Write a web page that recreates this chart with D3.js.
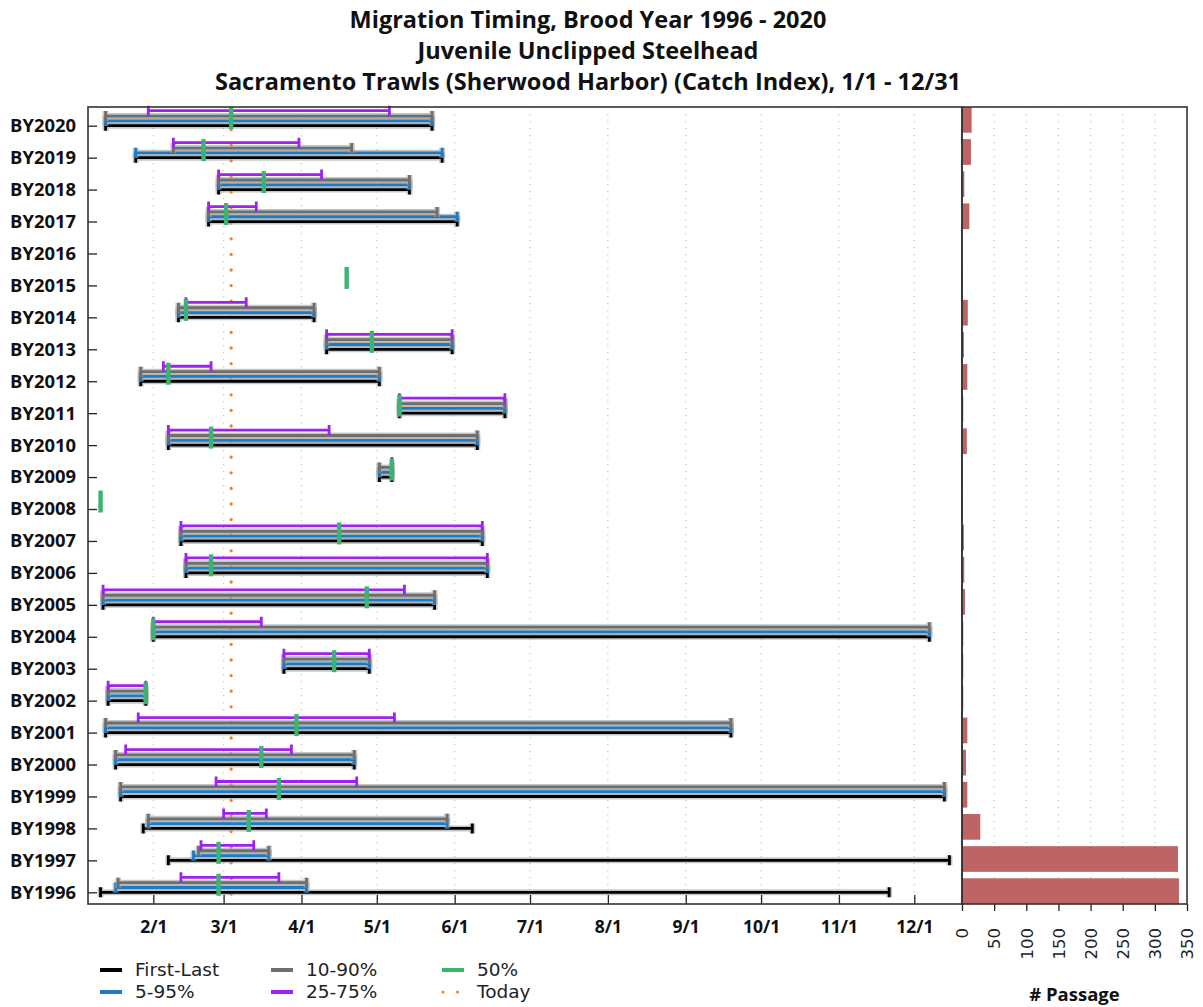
<!DOCTYPE html>
<html>
<head>
<meta charset="utf-8">
<script src="https://cdn.jsdelivr.net/npm/d3@7"></script>
<style>
  html, body { margin: 0; padding: 0; background: #fff; }
  svg { display: block; }
</style>
</head>
<body>
<script>
// Brood years, newest first (top row to bottom row)
const years = [2020, 2019, 2018, 2017, 2016, 2015, 2014, 2013, 2012, 2011, 2010, 2009, 2008,
               2007, 2006, 2005, 2004, 2003, 2002, 2001, 2000, 1999, 1998, 1997, 1996];

// Migration timing dates (M/D) per brood year; null = no record
const firstDate = ["1/13","1/25","2/27","2/23",null,null,"2/11","4/11","1/27","5/10","2/7","5/2",null,
                   "2/12","2/14","1/12","2/1","3/25","1/14","1/13","1/17","1/19","1/28","2/7","1/11"];
const p5Date    = ["1/13","1/25","2/27","2/23",null,null,"2/11","4/11","1/27","5/10","2/7","5/2",null,
                   "2/12","2/14","1/12","2/1","3/25","1/14","1/13","1/17","1/19","1/30","2/17","1/17"];
const p10Date   = ["1/13","2/9","2/27","2/23",null,null,"2/11","4/11","1/27","5/10","2/7","5/2",null,
                   "2/12","2/14","1/12","2/1","3/25","1/14","1/13","1/17","1/19","1/30","2/19","1/18"];
const p25Date   = ["1/30","2/9","2/27","2/23",null,null,"2/14","4/11","2/5","5/10","2/7","5/7",null,
                   "2/12","2/14","1/12","2/1","3/25","1/14","1/26","1/21","2/26","3/1","2/20","2/12"];
const p50Date   = ["3/4","2/21","3/17","3/2",null,"4/19","2/14","4/29","2/7","5/10","2/24","5/7","1/11",
                   "4/16","2/24","4/27","2/1","4/14","1/29","3/30","3/16","3/23","3/11","2/27","2/27"];
const p75Date   = ["5/6","3/31","4/9","3/14",null,null,"3/10","5/31","2/24","6/21","4/12","5/7",null,
                   "6/12","6/14","5/12","3/16","4/28","1/29","5/8","3/28","4/23","3/18","3/13","3/23"];
const p90Date   = ["5/23","4/21","5/14","5/25",null,null,"4/6","5/31","5/2","6/21","6/10","5/7",null,
                   "6/12","6/14","5/24","12/7","4/28","1/29","9/19","4/22","12/13","5/29","3/19","4/3"];
const p95Date   = ["5/23","5/27","5/14","6/2",null,null,"4/6","5/31","5/2","6/21","6/10","5/7",null,
                   "6/12","6/14","5/24","12/7","4/28","1/29","9/19","4/22","12/13","5/29","3/19","4/3"];
const lastDate  = ["5/23","5/27","5/14","6/2",null,null,"4/6","5/31","5/2","6/21","6/10","5/7",null,
                   "6/12","6/14","5/24","12/7","4/28","1/29","9/19","4/22","12/13","6/8","12/15","11/21"];

// Total passage (catch index) per brood year
const passage = [15, 14, 3.6, 11.4, 0, 1, 9, 3, 8.3, 2, 7.5, 1, 1,
                 3, 3.5, 4.7, 2, 2, 2, 8.3, 6.2, 8.3, 28.5, 336, 337.5];

const todayDate = "3/4";
const passageTicks = [0, 50, 100, 150, 200, 250, 300, 350];

const titleLines = [
  "Migration Timing, Brood Year 1996 - 2020",
  "Juvenile Unclipped Steelhead",
  "Sacramento Trawls (Sherwood Harbor) (Catch Index), 1/1 - 12/31"
];

// ---- layout ----
const W = 1203, H = 1007;
const main = { left: 88, right: 962, top: 107, bottom: 904 };
const side = { left: 962, right: 1187, top: 107, bottom: 904 };

const parse = d3.timeParse("%m/%d");
const P = s => (s == null ? null : parse(s));

const rows = years.map((y, i) => ({
  year: y,
  first: P(firstDate[i]), p5: P(p5Date[i]), p10: P(p10Date[i]), p25: P(p25Date[i]),
  p50: P(p50Date[i]), p75: P(p75Date[i]), p90: P(p90Date[i]), p95: P(p95Date[i]),
  last: P(lastDate[i]), passage: passage[i]
}));

const allDates = rows.flatMap(r => [r.first, r.p50, r.last]).filter(d => d);
const [dMin, dMax] = d3.extent(allDates);

const x = d3.scaleTime()
  .domain([d3.timeDay.offset(dMin, -5), d3.timeDay.offset(dMax, 5)])
  .range([main.left, main.right]);

const y = d3.scalePoint().domain(years).range([main.top + 18.7, main.bottom - 11.7]);

const xR = d3.scaleLinear().domain([0, 350]).range([side.left, side.right]);
const yR = d3.scaleBand().domain(years).range([side.top, side.bottom]).paddingInner(0.2).paddingOuter(0);

const svg = d3.select("body").append("svg").attr("width", W).attr("height", H);

// ---- title ----
svg.append("g").selectAll("text").data(titleLines).join("text")
  .attr("x", 588).attr("y", (d, i) => 28 + i * 31)
  .attr("text-anchor", "middle")
  .attr("font-family", "'Open Sans', 'Noto Sans', sans-serif")
  .attr("font-weight", 700).attr("font-size", 23.5).attr("fill", "#111")
  .text(d => d);

// ---- grid ----
const monthTicks = x.ticks(d3.timeMonth.every(1));
svg.append("g").selectAll("line").data(monthTicks).join("line")
  .attr("x1", d => x(d)).attr("x2", d => x(d))
  .attr("y1", main.top).attr("y2", main.bottom)
  .attr("stroke", "#c4c4c4").attr("stroke-width", 1.2).attr("stroke-dasharray", "1.3 5.7");

svg.append("g").selectAll("line").data(passageTicks.slice(1, -1)).join("line")
  .attr("x1", d => xR(d)).attr("x2", d => xR(d))
  .attr("y1", side.top).attr("y2", side.bottom)
  .attr("stroke", "#c4c4c4").attr("stroke-width", 1.2).attr("stroke-dasharray", "1.3 5.7");

// ---- today marker ----
const today = P(todayDate);
svg.append("line")
  .attr("x1", x(today)).attr("x2", x(today))
  .attr("y1", main.top + 7).attr("y2", main.bottom + 2)
  .attr("stroke", "#ee7f2d").attr("stroke-width", 3.3)
  .attr("stroke-linecap", "round").attr("stroke-dasharray", "0 15.6");

// ---- range lines ----
const ranges = [
  { lo: "first", hi: "last", color: "#000000", off: 0,     halo: true },
  { lo: "p5",    hi: "p95",  color: "#1b7bc4", off: -4.8,  halo: true },
  { lo: "p10",   hi: "p90",  color: "#6e6e6e", off: -9.6,  halo: true },
  { lo: "p25",   hi: "p75",  color: "#a020f0", off: -15,   halo: false }
];
const capH = 5;

const gR = svg.append("g");
ranges.forEach(s => {
  const data = rows.filter(r => r[s.lo] && r[s.hi]);
  const segs = d => {
    const yy = y(d.year) + s.off, x0 = x(d[s.lo]), x1 = x(d[s.hi]);
    return `M${x0},${yy}H${x1}M${x0},${yy - capH}V${yy + capH}M${x1},${yy - capH}V${yy + capH}`;
  };
  if (s.halo) {
    gR.append("g").selectAll("path").data(data).join("path")
      .attr("d", segs).attr("fill", "none")
      .attr("stroke", "#a0a0a0").attr("stroke-opacity", 0.6).attr("stroke-width", 6);
  }
  gR.append("g").selectAll("path").data(data).join("path")
    .attr("d", segs).attr("fill", "none")
    .attr("stroke", s.color).attr("stroke-width", 2.8);
});

// medians
svg.append("g").selectAll("rect").data(rows.filter(r => r.p50)).join("rect")
  .attr("x", d => x(d.p50) - 2.2).attr("width", 4.4)
  .attr("y", d => y(d.year) - 18.5).attr("height", 22)
  .attr("fill", "#3cb371");

// ---- passage bars ----
svg.append("g").selectAll("rect").data(rows).join("rect")
  .attr("x", xR(0)).attr("width", d => xR(d.passage) - xR(0))
  .attr("y", d => yR(d.year)).attr("height", yR.bandwidth())
  .attr("fill", "#bf6464");

// ---- axes ----
const xAxis = d3.axisBottom(x).tickValues(monthTicks)
  .tickFormat(d3.timeFormat("%-m/%-d")).tickSizeInner(-9).tickSizeOuter(0).tickPadding(17);
const gx = svg.append("g").attr("transform", `translate(0,${main.bottom})`).call(xAxis);
gx.select(".domain").remove();
gx.selectAll(".tick line").attr("stroke", "#222").attr("stroke-width", 1.3);
gx.selectAll(".tick text")
  .attr("font-family", "'Open Sans', 'Noto Sans', sans-serif")
  .attr("font-weight", 700).attr("font-size", 17.5).attr("fill", "#111");

const yAxis = d3.axisLeft(y).tickFormat(d => "BY" + d).tickSizeInner(-9).tickSizeOuter(0).tickPadding(12);
const gy = svg.append("g").attr("transform", `translate(${main.left},0)`).call(yAxis);
gy.select(".domain").remove();
gy.selectAll(".tick line").attr("stroke", "#222").attr("stroke-width", 1.3);
gy.selectAll(".tick text")
  .attr("font-family", "'Open Sans', 'Noto Sans', sans-serif")
  .attr("font-weight", 700).attr("font-size", 18.4).attr("fill", "#111");

const xRAxis = d3.axisBottom(xR).tickValues(passageTicks).tickSizeInner(7).tickSizeOuter(0);
const gxr = svg.append("g").attr("transform", `translate(0,${side.bottom})`).call(xRAxis);
gxr.select(".domain").remove();
gxr.selectAll(".tick line").attr("stroke", "#222").attr("stroke-width", 1.3);
gxr.selectAll(".tick text")
  .attr("transform", "rotate(-90)")
  .attr("x", -24).attr("y", 0).attr("dy", "0.35em")
  .attr("text-anchor", "end")
  .attr("font-family", "'DejaVu Sans', sans-serif")
  .attr("font-size", 16.5).attr("fill", "#222");

svg.append("text")
  .attr("x", (side.left + side.right) / 2).attr("y", 1001)
  .attr("text-anchor", "middle")
  .attr("font-family", "'Open Sans', 'Noto Sans', sans-serif")
  .attr("font-weight", 700).attr("font-size", 18.5).attr("fill", "#111")
  .text("# Passage");

// panel frames
[main, side].forEach(p => {
  svg.append("rect")
    .attr("x", p.left).attr("y", p.top)
    .attr("width", p.right - p.left).attr("height", p.bottom - p.top)
    .attr("fill", "none").attr("stroke", "#333").attr("stroke-width", 1.6);
});

// ---- legend ----
const legendItems = [
  { label: "First-Last", color: "#000000", col: 0, row: 0 },
  { label: "5-95%",      color: "#1b7bc4", col: 0, row: 1 },
  { label: "10-90%",     color: "#6e6e6e", col: 1, row: 0 },
  { label: "25-75%",     color: "#a020f0", col: 1, row: 1 },
  { label: "50%",        color: "#3cb371", col: 2, row: 0 },
  { label: "Today",      color: "#ee7f2d", col: 2, row: 1, dotted: true }
];
const colX = [100, 271, 442], rowY = [970, 992];
const lg = svg.append("g").selectAll("g").data(legendItems).join("g")
  .attr("transform", d => `translate(${colX[d.col]},${rowY[d.row]})`);
lg.filter(d => !d.dotted).append("line")
  .attr("x1", 0).attr("x2", 22).attr("y1", 0).attr("y2", 0)
  .attr("stroke", d => d.color).attr("stroke-width", 4);
lg.filter(d => d.dotted).append("line")
  .attr("x1", 1).attr("x2", 22).attr("y1", 0).attr("y2", 0)
  .attr("stroke", d => d.color).attr("stroke-width", 3)
  .attr("stroke-linecap", "round").attr("stroke-dasharray", "0 14.5");
lg.append("text")
  .attr("x", 35).attr("y", 0).attr("dy", "0.35em")
  .attr("font-family", "'DejaVu Sans', sans-serif")
  .attr("font-size", 18.5).attr("fill", "#222")
  .text(d => d.label);
</script>
</body>
</html>
